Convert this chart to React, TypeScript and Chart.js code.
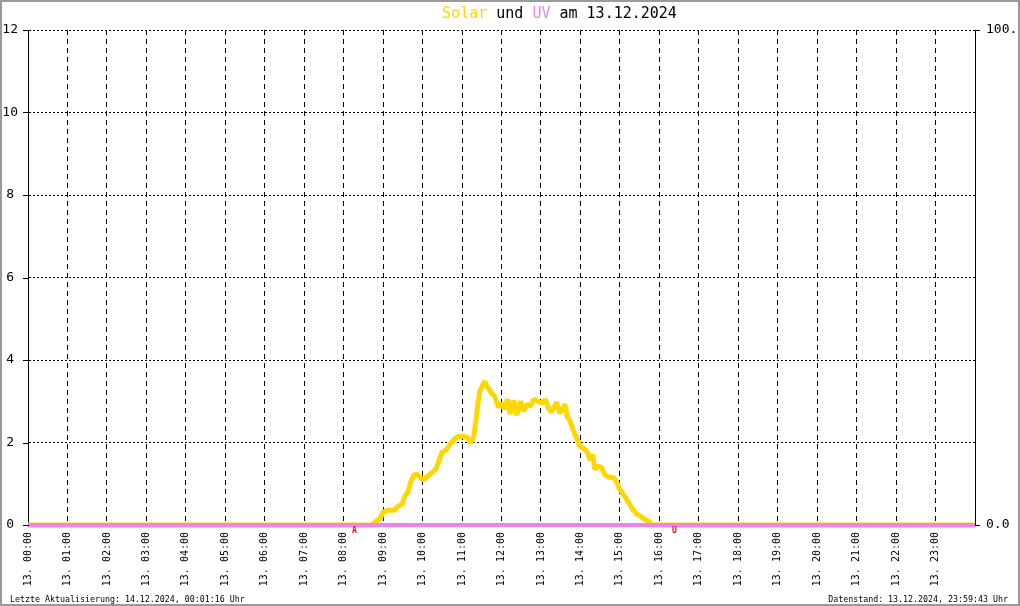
import React, { useEffect, useRef } from 'react';
import { Chart, registerables } from 'chart.js';

Chart.register(...registerables);

const FONT = "'DejaVu Sans Mono', 'Liberation Mono', monospace";

// ---- data ----
const hourTicks = [0, 1, 2, 3, 4, 5, 6, 7, 8, 9, 10, 11, 12, 13, 14, 15, 16, 17, 18, 19, 20, 21, 22, 23];
const hourLabels = [
  '13. 00:00', '13. 01:00', '13. 02:00', '13. 03:00', '13. 04:00', '13. 05:00',
  '13. 06:00', '13. 07:00', '13. 08:00', '13. 09:00', '13. 10:00', '13. 11:00',
  '13. 12:00', '13. 13:00', '13. 14:00', '13. 15:00', '13. 16:00', '13. 17:00',
  '13. 18:00', '13. 19:00', '13. 20:00', '13. 21:00', '13. 22:00', '13. 23:00',
];
const leftTicks = [0, 2, 4, 6, 8, 10, 12];
const rightTicks = [0, 100];

// Solar radiation (W/m², right axis), time in hours
const solarTimes = [
  0, 8.72, 8.74, 8.82, 8.92, 9.0, 9.13, 9.28, 9.38, 9.48,
  9.55, 9.63, 9.7, 9.78, 9.85, 9.93, 10.03, 10.1, 10.23, 10.34,
  10.41, 10.49, 10.59, 10.7, 10.8, 10.9, 11.03, 11.14, 11.22, 11.3,
  11.35, 11.4, 11.45, 11.53, 11.58, 11.64, 11.69, 11.77, 11.84, 11.92,
  12.0, 12.07, 12.15, 12.22, 12.31, 12.39, 12.48, 12.56, 12.65, 12.74,
  12.82, 12.92, 13.03, 13.11, 13.2, 13.26, 13.33, 13.4, 13.47, 13.54,
  13.61, 13.67, 13.74, 13.79, 13.86, 13.93, 13.99, 14.08, 14.16, 14.25,
  14.31, 14.36, 14.44, 14.53, 14.62, 14.72, 14.85, 14.93, 14.99, 15.08,
  15.17, 15.26, 15.34, 15.43, 15.52, 15.61, 15.72, 15.78, 15.82, 24,
];
const solarValues = [
  0, 0, 0.2, 0.8, 1.2, 2.6, 3.0, 3.0, 3.8, 4.2,
  5.8, 6.7, 8.7, 10.1, 10.3, 9.7, 9.1, 9.7, 10.5, 11.3,
  12.9, 14.7, 15.1, 16.3, 17.3, 17.9, 17.9, 17.7, 16.5, 18.1,
  21.0, 24.4, 27.0, 28.4, 29.0, 27.8, 27.4, 26.4, 25.8, 23.8,
  24.6, 23.4, 25.4, 22.4, 25.2, 22.2, 25.0, 23.0, 24.4, 24.0,
  25.4, 25.0, 24.6, 25.4, 23.4, 22.8, 23.8, 24.8, 22.6, 23.4,
  24.4, 21.8, 21.0, 19.8, 18.3, 17.1, 15.9, 15.5, 14.9, 13.1,
  14.3, 11.3, 11.9, 11.7, 10.1, 9.7, 9.5, 8.5, 7.3, 6.3,
  5.2, 4.0, 3.0, 2.2, 1.8, 1.2, 0.8, 0.3, 0, 0,
];

// UV index (left axis)
const uvTimes = [0, 24];
const uvValues = [0, 0];

// sunrise / sunset markers (hours)
const sunriseHour = 8.27;
const sunsetHour = 16.38;

const titleTexts = ['Solar', ' und ', 'UV', ' am 13.12.2024'];
const footerLeft = 'Letzte Aktualisierung: 14.12.2024, 00:01:16 Uhr';
const footerRight = 'Datenstand: 13.12.2024, 23:59:43 Uhr';

const SOLAR_COLOR = '#FFD700';
const UV_COLOR = '#EE82EE';
const titleColors = [SOLAR_COLOR, '#000000', UV_COLOR, '#000000'];

const decorPlugin = {
  id: 'decor',
  afterDraw(chart: any) {
    const ctx: CanvasRenderingContext2D = chart.ctx;
    const { left, right, bottom } = chart.chartArea;
    ctx.save();
    ctx.setLineDash([]);
    ctx.strokeStyle = '#000';
    ctx.lineWidth = 1;
    // tick marks crossing the axes
    const ys = chart.scales.y;
    ys.ticks.forEach((t: any) => {
      const py = Math.round(ys.getPixelForValue(t.value)) + 0.5;
      ctx.beginPath();
      ctx.moveTo(left - 5, py);
      ctx.lineTo(left + 1, py);
      ctx.stroke();
    });
    const y2 = chart.scales.y2;
    y2.ticks.forEach((t: any) => {
      const py = Math.round(y2.getPixelForValue(t.value)) + 0.5;
      ctx.beginPath();
      ctx.moveTo(right, py);
      ctx.lineTo(right + 5, py);
      ctx.stroke();
    });

    // title
    ctx.font = `15px ${FONT}`;
    ctx.textBaseline = 'alphabetic';
    ctx.textAlign = 'left';
    const widths = titleTexts.map((s) => ctx.measureText(s).width);
    const total = widths.reduce((a, b) => a + b, 0);
    let tx = 559.5 - total / 2;
    titleTexts.forEach((s, i) => {
      ctx.fillStyle = titleColors[i];
      ctx.fillText(s, tx, 18);
      tx += widths[i];
    });

    // footer
    ctx.font = `8.3px ${FONT}`;
    ctx.fillStyle = '#000';
    ctx.textAlign = 'left';
    ctx.fillText(footerLeft, 10, 602);
    ctx.textAlign = 'right';
    ctx.fillText(footerRight, 1008, 602);

    // sunrise / sunset markers
    const xs = chart.scales.x;
    ctx.font = `bold 8px ${FONT}`;
    ctx.fillStyle = '#FF0000';
    ctx.textAlign = 'center';
    ctx.textBaseline = 'middle';
    ctx.fillText('A', xs.getPixelForValue(sunriseHour), bottom + 6);
    ctx.fillText('U', xs.getPixelForValue(sunsetHour), bottom + 6);

    // frame
    ctx.strokeStyle = '#9a9a9a';
    ctx.lineWidth = 2;
    ctx.strokeRect(1, 1, chart.width - 2, chart.height - 2);
    ctx.restore();
  },
};

export default function App() {
  const canvasRef = useRef<HTMLCanvasElement | null>(null);

  useEffect(() => {
    const prevMargin = document.body.style.margin;
    document.body.style.margin = '0';
    const canvas = canvasRef.current;
    if (!canvas) return;

    const chart = new Chart(canvas, {
      type: 'line',
      data: {
        datasets: [
          {
            label: 'UV',
            data: uvTimes.map((t, i) => ({ x: t, y: uvValues[i] })),
            yAxisID: 'y',
            borderColor: UV_COLOR,
            borderWidth: 4,
            pointRadius: 0,
            tension: 0,
            clip: false,
          },
          {
            label: 'Solar',
            data: solarTimes.map((t, i) => ({ x: t, y: solarValues[i] })),
            yAxisID: 'y2',
            borderColor: SOLAR_COLOR,
            borderWidth: 5,
            borderJoinStyle: 'bevel',
            pointRadius: 0,
            tension: 0,
            clip: false,
          },
        ],
      },
      options: {
        animation: false,
        responsive: false,
        devicePixelRatio: 1,
        events: [],
        layout: { padding: { top: 30, left: 0, right: 0, bottom: 0 } },
        plugins: {
          legend: { display: false },
          title: { display: false },
          tooltip: { enabled: false },
        },
        scales: {
          x: {
            type: 'linear',
            position: 'bottom',
            min: 0,
            max: 24,
            afterBuildTicks: (s: any) => {
              s.ticks = hourTicks.map((v) => ({ value: v }));
            },
            afterFit: (s: any) => {
              s.height = 81;
            },
            ticks: {
              autoSkip: false,
              maxRotation: 90,
              minRotation: 90,
              padding: 7,
              color: '#000',
              font: { family: FONT, size: 10 },
              callback: (_v: any, i: number) => hourLabels[i],
            },
            grid: { color: '#000', lineWidth: 1, drawTicks: false },
            border: { display: false, dash: [5, 4] },
          },
          y: {
            type: 'linear',
            position: 'left',
            min: 0,
            max: 12,
            afterBuildTicks: (s: any) => {
              s.ticks = leftTicks.map((v) => ({ value: v }));
            },
            afterFit: (s: any) => {
              s.width = 28;
            },
            ticks: {
              padding: 10,
              crossAlign: 'center',
              color: '#000',
              font: { family: FONT, size: 13 },
              callback: (v: any) => String(v),
            },
            grid: { color: '#000', lineWidth: 1, drawTicks: false },
            border: { display: true, color: '#000', width: 1, dash: [2, 2] },
          },
          y2: {
            type: 'linear',
            position: 'right',
            min: 0,
            max: 100,
            afterBuildTicks: (s: any) => {
              s.ticks = rightTicks.map((v) => ({ value: v }));
            },
            afterFit: (s: any) => {
              s.width = 45;
            },
            ticks: {
              padding: 11,
              color: '#000',
              font: { family: FONT, size: 13 },
              callback: (v: any) => Number(v).toFixed(1),
            },
            grid: { drawOnChartArea: false, drawTicks: false },
            border: { display: true, color: '#000', width: 1 },
          },
        },
      },
      plugins: [decorPlugin],
    });

    return () => {
      chart.destroy();
      document.body.style.margin = prevMargin;
    };
  }, []);

  return (
    <div style={{ position: 'fixed', left: 0, top: 0, width: 1020, height: 606, background: '#fff' }}>
      <canvas ref={canvasRef} width={1020} height={606} style={{ display: 'block' }} />
    </div>
  );
}
